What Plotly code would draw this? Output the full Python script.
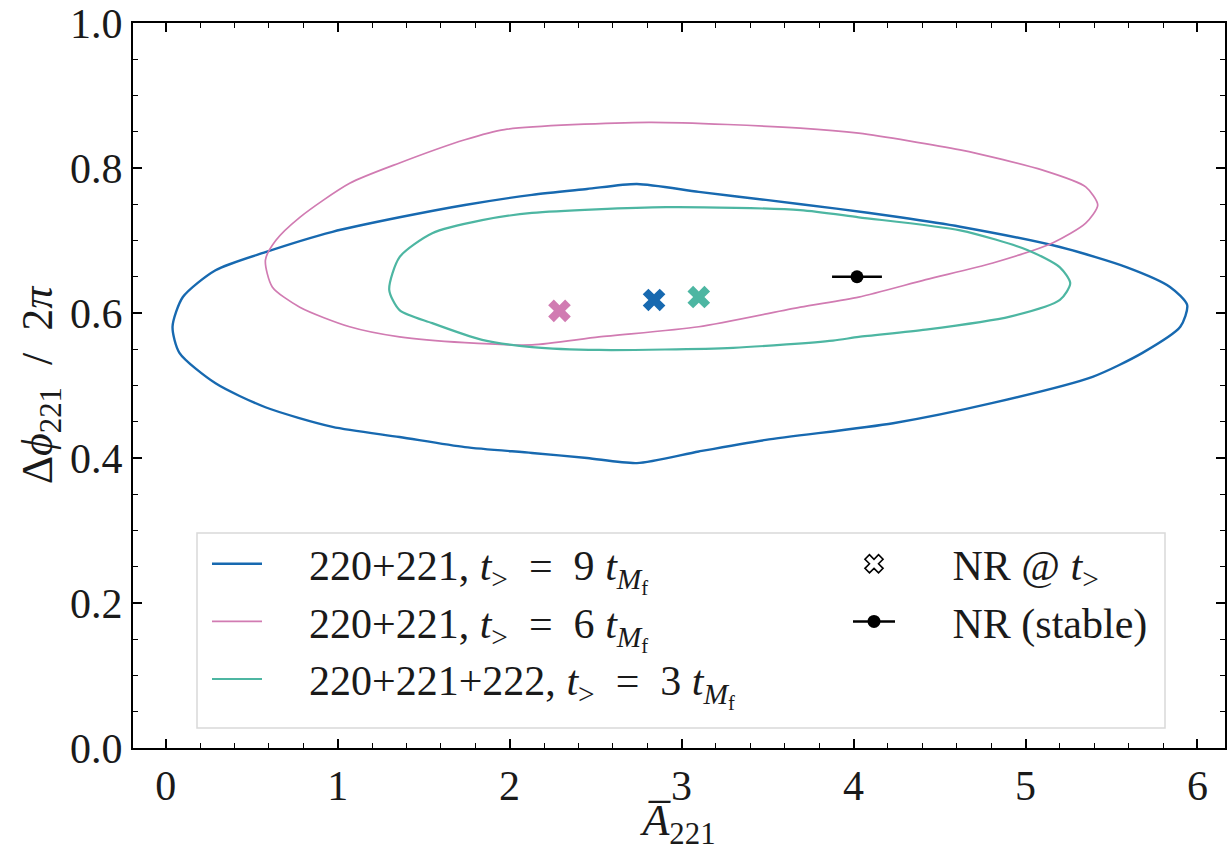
import plotly.graph_objects as go

# ---- data ----
blue_x = [0.04, 0.10, 0.29, 0.58, 0.97, 1.36, 1.74, 2.13, 2.45, 2.74, 3.10, 3.49, 3.90, 4.27, 4.62, 5.20, 5.59, 5.84,
          5.94, 5.90, 5.68, 5.39, 4.81, 4.23, 3.49, 3.10, 2.74, 2.45, 2.13, 1.74, 1.36, 0.97, 0.58, 0.29, 0.08, 0.04]
blue_y = [0.581, 0.622, 0.659, 0.684, 0.712, 0.732, 0.749, 0.763, 0.771, 0.778, 0.767, 0.756, 0.744, 0.732, 0.719,
          0.691, 0.663, 0.636, 0.611, 0.581, 0.545, 0.512, 0.476, 0.448, 0.425, 0.409, 0.393, 0.400, 0.407, 0.415,
          0.429, 0.443, 0.470, 0.503, 0.545, 0.581]

pink_x = [0.58, 0.64, 0.78, 1.07, 1.36, 1.74, 1.97, 2.81, 3.69, 4.03, 4.62, 5.10, 5.35, 5.42, 5.35, 5.16, 4.81,
          4.42, 4.03, 3.69, 3.10, 2.52, 2.13, 1.74, 1.36, 1.07, 0.78, 0.62, 0.58]
pink_y = [0.673, 0.700, 0.732, 0.779, 0.807, 0.839, 0.853, 0.863, 0.855, 0.848, 0.825, 0.797, 0.774, 0.749, 0.724,
          0.697, 0.669, 0.646, 0.622, 0.608, 0.581, 0.567, 0.556, 0.559, 0.567, 0.581, 0.608, 0.636, 0.673]

teal_x = [1.30, 1.36, 1.55, 1.84, 2.13, 2.91, 3.69, 4.03, 4.62, 5.01, 5.20, 5.26, 5.20, 4.91, 4.42, 4.03, 3.88,
          3.30, 2.52, 2.13, 1.84, 1.55, 1.36, 1.30]
teal_y = [0.632, 0.677, 0.710, 0.728, 0.738, 0.746, 0.742, 0.732, 0.714, 0.687, 0.663, 0.641, 0.618, 0.595, 0.577,
          0.567, 0.562, 0.552, 0.549, 0.553, 0.563, 0.586, 0.604, 0.632]

# NR @ t_> markers: pink, blue, teal
nr_x = [2.29, 2.84, 3.10]
nr_y = [0.603, 0.618, 0.622]

stable_x = [4.02]
stable_y = [0.650]
stable_xerr = [0.145]
stable_yerr = [0.004]

NB = "\u00a0"
labels = [
    "220+221, <i>t</i><sub>></sub>  =  9 <i>t</i><sub><i>M</i><sub>f</sub></sub>",
    "220+221, <i>t</i><sub>></sub>  =  6 <i>t</i><sub><i>M</i><sub>f</sub></sub>",
    "220+221+222, <i>t</i><sub>></sub>  =  3 <i>t</i><sub><i>M</i><sub>f</sub></sub>",
]
nr_label = "NR @ <i>t</i><sub>></sub>"
stable_label = "NR (stable)"

BLUE = "#1769B0"
PINK = "#D17BB2"
TEAL = "#4DB6A2"
line_colors = [BLUE, PINK, TEAL]
line_widths = [2.4, 1.7, 2.2]
nr_colors = [PINK, BLUE, TEAL]

FONT = "Liberation Serif"
TXT = "#1a1a1a"

# plot-area geometry in pixels (for placing the legend box)
L, R, T, B = 133, 1225, 23, 748
def px(xp):
    return (xp - L) / (R - L)
def py(yp):
    return (B - yp) / (B - T)

fig = go.Figure()

contours = [(blue_x, blue_y), (pink_x, pink_y), (teal_x, teal_y)]
for i, (cx, cy) in enumerate(contours):
    fig.add_trace(go.Scatter(x=cx, y=cy, mode="lines", name=NB * 4 + labels[i], legend="legend",
                             legendgroup="g%d" % i,
                             line=dict(color=line_colors[i], width=line_widths[i], shape="spline", smoothing=0.7)))

# legend-only entries for the marker column
fig.add_trace(go.Scatter(x=[None], y=[None], mode="markers", name=NB * 5 + nr_label, legend="legend2",
                         legendgroup="m1",
                         marker=dict(symbol="x-open", color="black", size=18, line=dict(width=1.6, color="black"))))
fig.add_trace(go.Scatter(x=[None], y=[None], mode="lines+markers", name=NB * 5 + stable_label, legend="legend2",
                         legendgroup="m2",
                         line=dict(color="black", width=2.5),
                         marker=dict(symbol="circle", color="black", size=13)))

# NR markers
for i in range(3):
    fig.add_trace(go.Scatter(x=[nr_x[i]], y=[nr_y[i]], mode="markers", showlegend=False,
                             marker=dict(symbol="x", color=nr_colors[i], size=20, line=dict(width=0))))

fig.add_trace(go.Scatter(x=stable_x, y=stable_y, mode="markers", showlegend=False,
                         marker=dict(symbol="circle", color="black", size=13),
                         error_x=dict(type="data", array=stable_xerr, color="black", thickness=2.5, width=0),
                         error_y=dict(type="data", array=stable_yerr, color="black", thickness=2.5, width=0)))

axis_common = dict(
    showline=True, linecolor="black", linewidth=2, mirror="allticks",
    ticks="inside", ticklen=9, tickwidth=1.8, tickcolor="black",
    showgrid=False, zeroline=False, automargin=False,
    tickfont=dict(family=FONT, size=42, color=TXT),
)

fig.update_xaxes(range=[-0.19, 6.16], tickmode="array", tickvals=[0, 1, 2, 3, 4, 5, 6],
                 minor=dict(dtick=0.2, tick0=0, ticks="inside", ticklen=5, tickwidth=1.3, tickcolor="black"),
                 title=dict(text="<i>A̅</i><sub>221</sub>", font=dict(family=FONT, size=44, color=TXT), standoff=8),
                 **axis_common)
fig.update_yaxes(range=[0, 1], tickmode="array", tickvals=[0, 0.2, 0.4, 0.6, 0.8, 1.0],
                 ticktext=["0.0", "0.2", "0.4", "0.6", "0.8", "1.0"],
                 minor=dict(dtick=0.05, tick0=0, ticks="inside", ticklen=5, tickwidth=1.3, tickcolor="black"),
                 title=dict(text="Δ<i>ϕ</i><sub>221</sub>  /  2<i>π</i>", font=dict(family=FONT, size=44, color=TXT), standoff=4),
                 **axis_common)

legend_common = dict(
    orientation="v", xanchor="left", yanchor="top",
    bgcolor="rgba(0,0,0,0)", borderwidth=0,
    font=dict(family=FONT, size=42, color=TXT),
    traceorder="normal", tracegroupgap=10,
)

fig.update_layout(
    width=1229, height=851,
    margin=dict(l=L, r=1229 - R, t=T, b=851 - B),
    plot_bgcolor="white", paper_bgcolor="white",
    font=dict(family=FONT, size=42, color=TXT),
    legend=dict(x=px(207), y=py(530), itemwidth=50, **legend_common),
    legend2=dict(x=px(848), y=py(530), itemwidth=42, **legend_common),
    shapes=[dict(type="rect", xref="paper", yref="paper",
                 x0=px(197), x1=px(1165), y0=py(728), y1=py(533),
                 line=dict(color="#d9d9d9", width=1.5), fillcolor="white", layer="above")],
)

fig.write_html("out.html")
